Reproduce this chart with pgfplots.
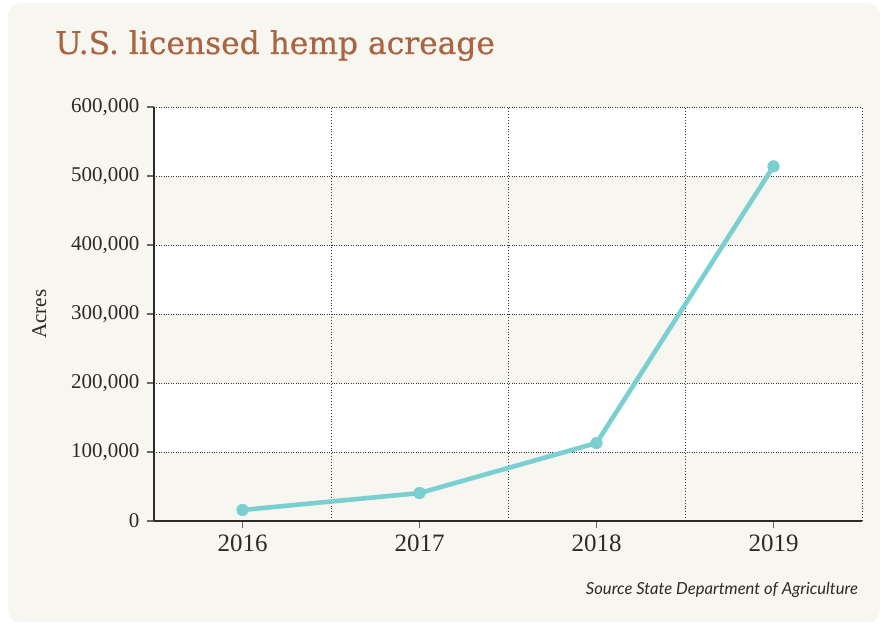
\documentclass[border=0pt]{standalone}
\usepackage{pgfplots}
\pgfplotsset{compat=1.18}
\usepackage{fontspec}
\setmainfont{Liberation Serif}
\newfontfamily\titlefont[FakeBold=0.5]{DejaVu Serif}
\newfontfamily\srcfont{Lato}
\definecolor{beige}{RGB}{247,246,241}
\definecolor{titlebrown}{RGB}{170,100,64}
\definecolor{teal}{RGB}{122,207,209}
\definecolor{axisdark}{RGB}{45,42,40}
\pgfplotsset{myaxis/.style={
  scale only axis,
  width=708pt, height=414pt,
  at={(154pt,105pt)}, anchor=south west,
  xmin=-0.5, xmax=3.5,
  ymin=0, ymax=600000,
}}
\begin{document}
\begin{tikzpicture}
\fill[white] (0,0) rectangle (883pt,626pt);
\fill[beige, rounded corners=12pt] (8pt,4pt) rectangle (880pt,623pt);
\node[anchor=base west, inner sep=0pt, text=titlebrown, font=\titlefont\fontsize{31.3}{31.3}\selectfont] at (55pt,572pt) {U.S. licensed hemp acreage};
\node[anchor=base east, inner sep=0pt, text=axisdark, font=\srcfont\itshape\fontsize{16.6}{16.6}\selectfont] at (858pt,31pt) {Source State Department of Agriculture};
\begin{axis}[myaxis, hide axis, clip=false]
\addplot[fill=beige, draw=none] coordinates {(-0.5,0) (3.5,0) (3.5,100000) (-0.5,100000)};
\addplot[fill=white, draw=none] coordinates {(-0.5,100000) (3.5,100000) (3.5,200000) (-0.5,200000)};
\addplot[fill=beige, draw=none] coordinates {(-0.5,200000) (3.5,200000) (3.5,300000) (-0.5,300000)};
\addplot[fill=white, draw=none] coordinates {(-0.5,300000) (3.5,300000) (3.5,400000) (-0.5,400000)};
\addplot[fill=beige, draw=none] coordinates {(-0.5,400000) (3.5,400000) (3.5,500000) (-0.5,500000)};
\addplot[fill=white, draw=none] coordinates {(-0.5,500000) (3.5,500000) (3.5,600000) (-0.5,600000)};
\end{axis}
\begin{axis}[
  myaxis,
  axis x line*=bottom, axis y line*=left,
  axis line style={-, line width=2.2pt, color=axisdark},
  xtick={0,1,2,3},
  xticklabels={2016,2017,2018,2019},
  minor xtick={0.5,1.5,2.5,3.5},
  xminorgrids=true, xmajorgrids=false,
  ytick={0,100000,200000,300000,400000,500000,600000},
  ymajorgrids=true,
  grid style={dotted, line width=0.9pt, color=black!80},
  minor grid style={dotted, line width=0.9pt, color=black!80},
  tick align=outside,
  major tick length=7pt,
  minor tick length=0pt,
  tick style={color=black!60, line width=1.2pt},
  scaled y ticks=false,
  yticklabel style={/pgf/number format/fixed, /pgf/number format/1000 sep={,}, /pgf/number format/assume math mode=true, font=\fontsize{21}{21}\selectfont, text=axisdark, xshift=-4pt},
  xticklabel style={font=\fontsize{25}{25}\selectfont, text=axisdark, yshift=-3pt},
  ylabel={Acres},
  ylabel style={at={(axis description cs:-0.162,0.5)}, anchor=center, font=\fontsize{21}{21}\selectfont, text=axisdark},
  clip=false,
]
\addplot[color=teal, line width=4.6pt, mark=*, mark size=5.8pt, mark options={solid, fill=teal, draw=teal, line width=0.5pt}] coordinates {
(0,16000) (1,40500) (2,113000) (3,514000)
};
\end{axis}
\end{tikzpicture}
\end{document}
